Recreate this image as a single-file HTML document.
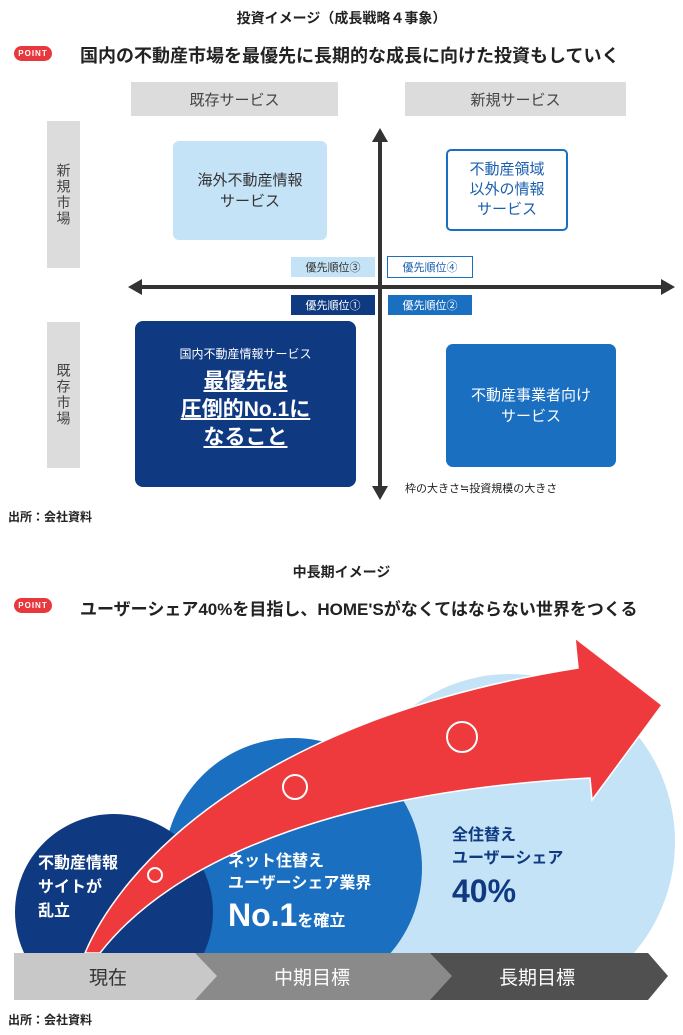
<!DOCTYPE html>
<html><head><meta charset="utf-8"><style>
body{margin:0;width:683px;height:1035px;background:#fff;position:relative;overflow:hidden;font-family:"Liberation Sans","Noto Sans CJK JP",sans-serif;color:#222}
.a{position:absolute}
.c{display:flex;align-items:center;justify-content:center;text-align:center}
.pt{background:#e8383d;color:#fff;font-size:8px;font-weight:bold;border-radius:8px;letter-spacing:1px}
.h{font-weight:bold;font-size:18px;white-space:nowrap}
.g{background:#dcdcdc;color:#444;font-size:15px}
.v{background:#dcdcdc;color:#444;font-size:14px;writing-mode:vertical-rl;letter-spacing:2px}
.p{font-size:11px;height:20px;width:84px}
</style></head><body>
<div class="a c" style="left:0;width:683px;top:8px;height:20px;font-weight:bold;font-size:14px">投資イメージ（成長戦略４事象）</div>
<div class="a c pt" style="left:14px;top:46px;width:38px;height:15px">POINT</div>
<div class="a h" style="left:80px;top:42px">国内の不動産市場を最優先に長期的な成長に向けた投資もしていく</div>
<div class="a c g" style="left:131px;top:82px;width:207px;height:34px">既存サービス</div>
<div class="a c g" style="left:405px;top:82px;width:221px;height:34px">新規サービス</div>
<div class="a c v" style="left:47px;top:121px;width:33px;height:147px">新規市場</div>
<div class="a c v" style="left:47px;top:322px;width:33px;height:146px">既存市場</div>
<svg class="a" style="left:0;top:0" width="683" height="520">
<line x1="380" y1="140" x2="380" y2="488" stroke="#333" stroke-width="4"/>
<polygon points="380,128 372,142 388,142" fill="#333"/>
<polygon points="380,500 372,486 388,486" fill="#333"/>
<line x1="140" y1="287" x2="663" y2="287" stroke="#333" stroke-width="4"/>
<polygon points="128,287 142,279 142,295" fill="#333"/>
<polygon points="675,287 661,279 661,295" fill="#333"/>
</svg>
<div class="a c" style="left:173px;top:141px;width:154px;height:99px;background:#c5e3f7;border-radius:6px;font-size:15px;color:#333;line-height:21px">海外不動産情報<br>サービス</div>
<div class="a c" style="left:446px;top:149px;width:118px;height:78px;border:2px solid #1a6fc0;border-radius:5px;font-size:15px;color:#1a5fae;line-height:20px">不動産領域<br>以外の情報<br>サービス</div>
<div class="a c p" style="left:291px;top:257px;background:#c5e3f7;color:#333">優先順位③</div>
<div class="a c p" style="left:387px;top:256px;border:1.5px solid #1a6fc0;color:#1a5fae">優先順位④</div>
<div class="a c p" style="left:291px;top:295px;background:#0f3a82;color:#fff">優先順位①</div>
<div class="a c p" style="left:388px;top:295px;background:#1a6fc0;color:#fff">優先順位②</div>
<div class="a" style="left:135px;top:321px;width:221px;height:166px;background:#0f3a82;border-radius:8px;color:#fff;text-align:center">
<div style="margin-top:24px;font-size:12px">国内不動産情報サービス</div>
<div style="margin-top:6px;font-size:21px;font-weight:bold;line-height:28px;text-decoration:underline">最優先は<br>圧倒的No.1に<br>なること</div></div>
<div class="a c" style="left:446px;top:344px;width:170px;height:123px;background:#1a6fc0;border-radius:7px;color:#fff;font-size:15px;line-height:21px">不動産事業者向け<br>サービス</div>
<div class="a" style="left:405px;top:480px;font-size:11px">枠の大きさ≒投資規模の大きさ</div>
<div class="a" style="left:8px;top:508px;font-size:12px;font-weight:bold">出所：会社資料</div>

<div class="a c" style="left:0;width:683px;top:562px;height:20px;font-weight:bold;font-size:14px">中長期イメージ</div>
<div class="a c pt" style="left:14px;top:598px;width:38px;height:15px">POINT</div>
<div class="a h" style="left:80px;top:595px;font-size:17px">ユーザーシェア40%を目指し、HOME'Sがなくてはならない世界をつくる</div>
<svg class="a" style="left:0;top:620px" width="683" height="390" viewBox="0 620 683 390">
<defs><clipPath id="cp"><rect x="0" y="600" width="683" height="353"/></clipPath></defs>
<g clip-path="url(#cp)">
<ellipse cx="510" cy="842" rx="165" ry="168" fill="#c5e3f7"/>
<ellipse cx="293" cy="868" rx="129" ry="130" fill="#1a6fc0"/>
<ellipse cx="114" cy="912" rx="99" ry="98" fill="#0f3a82"/>
</g>
<path d="M85,953 C120,870 250,720 578,668 L575,638 L662,705 L592,800 L590,778 C360,790 180,850 100,953 Z" fill="#ef3a3d" stroke="#fff" stroke-width="1.5"/>
<circle cx="155" cy="875" r="7" fill="none" stroke="#fff" stroke-width="2"/>
<circle cx="295" cy="787" r="12" fill="none" stroke="#fff" stroke-width="2"/>
<circle cx="462" cy="737" r="15" fill="none" stroke="#fff" stroke-width="2"/>
<text fill="#fff" font-weight="bold" font-size="16"><tspan x="38" y="868">不動産情報</tspan><tspan x="38" y="892">サイトが</tspan><tspan x="38" y="916">乱立</tspan></text>
<text fill="#fff" font-weight="bold" font-size="16"><tspan x="228" y="866">ネット住替え</tspan><tspan x="228" y="888">ユーザーシェア業界</tspan></text>
<text x="228" y="926" fill="#fff" font-weight="bold" font-size="32">No.1<tspan font-size="16">を確立</tspan></text>
<text fill="#0f3a82" font-weight="bold" font-size="16"><tspan x="452" y="840">全住替え</tspan><tspan x="452" y="863">ユーザーシェア</tspan></text>
<text x="452" y="902" fill="#0f3a82" font-weight="bold" font-size="32">40%</text>
<polygon points="430,953 648,953 668,976 648,1000 430,1000" fill="#505050"/>
<polygon points="195,953 430,953 452,976 430,1000 195,1000 215,976" fill="#8a8a8a"/>
<polygon points="14,953 195,953 217,976 195,1000 14,1000" fill="#c8c8c8"/>
<text x="108" y="984" text-anchor="middle" font-size="19" fill="#333">現在</text>
<text x="312" y="984" text-anchor="middle" font-size="19" fill="#fff">中期目標</text>
<text x="537" y="984" text-anchor="middle" font-size="19" fill="#fff">長期目標</text>
</svg>
<div class="a" style="left:8px;top:1011px;font-size:12px;font-weight:bold">出所：会社資料</div>
</body></html>
